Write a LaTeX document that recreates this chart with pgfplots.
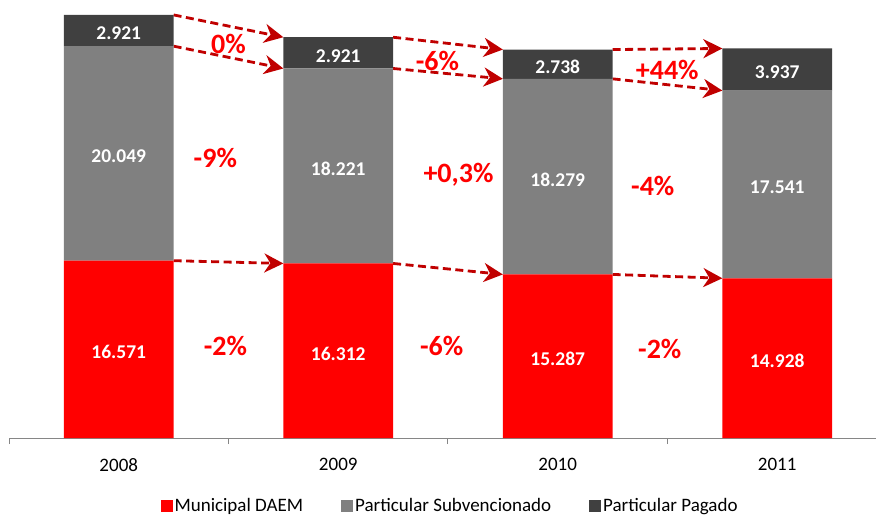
\documentclass[border=0pt]{standalone}
\usepackage{fontspec}
\setmainfont{Carlito}
\usepackage{pgfplots}
\pgfplotsset{compat=1.18}
\usetikzlibrary{arrows.meta,calc}
\definecolor{muni}{HTML}{FF0000}
\definecolor{subv}{HTML}{808080}
\definecolor{paga}{HTML}{404040}
\definecolor{arr}{HTML}{C00000}
\definecolor{axgray}{HTML}{868686}
\tikzset{
  barlab/.style={font=\fontsize{19.5bp}{21bp}\selectfont\bfseries, text=white, yshift=-3bp},
  pct/.style={font=\fontsize{28bp}{30bp}\selectfont\bfseries, text=muni},
  arrs/.style={draw=arr, line width=2.8bp, dash pattern=on 8bp off 4.5bp, -{Stealth[length=19bp,width=19bp,inset=6bp]}},
}
\begin{document}
\begin{tikzpicture}
\begin{axis}[
  scale only axis, width=867bp, height=428bp,
  ybar stacked, bar width=0.5,
  xmin=-0.5, xmax=3.45, ymin=0, ymax=40000,
  clip=false,
  axis y line=none, axis x line*=bottom,
  x axis line style={draw=axgray, line width=1bp, -},
  xtick={0,1,2,3}, xticklabels={2008,2009,2010,2011},
  major tick length=0pt,
  extra x ticks={-0.5,0.5,1.5,2.5}, extra x tick labels={},
  extra x tick style={major tick length=6bp, tick align=outside, tick style={draw=axgray, line width=1bp}},
  xticklabel style={font=\fontsize{19bp}{22bp}\selectfont, yshift=-17bp},
  legend columns=3,
  legend cell align=left,
  legend style={draw=none, at={(0.5087,0)}, anchor=north, yshift=-56bp,
    font=\fontsize{19bp}{22bp}\selectfont,
    /tikz/every even column/.append style={column sep=36bp}},
]
\addplot[fill=muni, draw=none, legend image code/.code={\fill[muni] (0bp,-6bp) rectangle (12bp,6bp);}]
  coordinates {(0,16571) (1,16312) (2,15287) (3,14928)};
\addplot[fill=subv, draw=none, legend image code/.code={\fill[subv] (0bp,-6bp) rectangle (12bp,6bp);}]
  coordinates {(0,20049) (1,18221) (2,18279) (3,17541)};
\addplot[fill=paga, draw=none, legend image code/.code={\fill[paga] (0bp,-6bp) rectangle (12bp,6bp);}]
  coordinates {(0,2921) (1,2921) (2,2738) (3,3937)};
\legend{Municipal DAEM, Particular Subvencionado, Particular Pagado}

% value label positions (segment centres)
\coordinate (a1) at (axis cs:0,8285.5);
\coordinate (a2) at (axis cs:0,26595.5);
\coordinate (a3) at (axis cs:0,38080.5);
\coordinate (b1) at (axis cs:1,8156);
\coordinate (b2) at (axis cs:1,25422.5);
\coordinate (b3) at (axis cs:1,35993.5);
\coordinate (c1) at (axis cs:2,7643.5);
\coordinate (c2) at (axis cs:2,24426.5);
\coordinate (c3) at (axis cs:2,34935);
\coordinate (d1) at (axis cs:3,7464);
\coordinate (d2) at (axis cs:3,23698.5);
\coordinate (d3) at (axis cs:3,34437.5);

% arrows
\draw[arrs] (axis cs:0.25,39541) -- (axis cs:0.75,37454);
\draw[arrs] (axis cs:0.25,36620) -- (axis cs:0.75,34533);
\draw[arrs] (axis cs:0.25,16571) -- (axis cs:0.75,16312);
\draw[arrs] (axis cs:1.25,37454) -- (axis cs:1.75,36304);
\draw[arrs] (axis cs:1.25,34533) -- (axis cs:1.75,33566);
\draw[arrs] (axis cs:1.25,16312) -- (axis cs:1.75,15287);
\draw[arrs] (axis cs:2.25,36304) -- (axis cs:2.75,36406);
\draw[arrs] (axis cs:2.25,33566) -- (axis cs:2.75,32469);
\draw[arrs] (axis cs:2.25,15287) -- (axis cs:2.75,14928);

% percentage labels
\node[pct] at (axis cs:0.50,36823) {0\%};
\node[pct] at (axis cs:0.44,26215) {-9\%};
\node[pct] at (axis cs:0.486,8598) {-2\%};
\node[pct] at (axis cs:1.452,35281) {-6\%};
\node[pct] at (axis cs:1.548,24580) {+0,3\%};
\node[pct] at (axis cs:1.471,8598) {-6\%};
\node[pct] at (axis cs:2.499,34440) {+44\%};
\node[pct] at (axis cs:2.433,23552) {-4\%};
\node[pct] at (axis cs:2.465,8318) {-2\%};

\coordinate (SW) at (rel axis cs:0,0);
\coordinate (NE) at (rel axis cs:1,1);
\end{axis}
\node[barlab] at (a1) {16.571};
\node[barlab] at (a2) {20.049};
\node[barlab] at (a3) {2.921};
\node[barlab] at (b1) {16.312};
\node[barlab] at (b2) {18.221};
\node[barlab] at (b3) {2.921};
\node[barlab] at (c1) {15.287};
\node[barlab] at (c2) {18.279};
\node[barlab] at (c3) {2.738};
\node[barlab] at (d1) {14.928};
\node[barlab] at (d2) {17.541};
\node[barlab] at (d3) {3.937};
\pgfresetboundingbox
\path[use as bounding box] ($(SW)+(-9bp,-77bp)$) rectangle ($(NE)+(0bp,10bp)$);
\end{tikzpicture}
\end{document}
